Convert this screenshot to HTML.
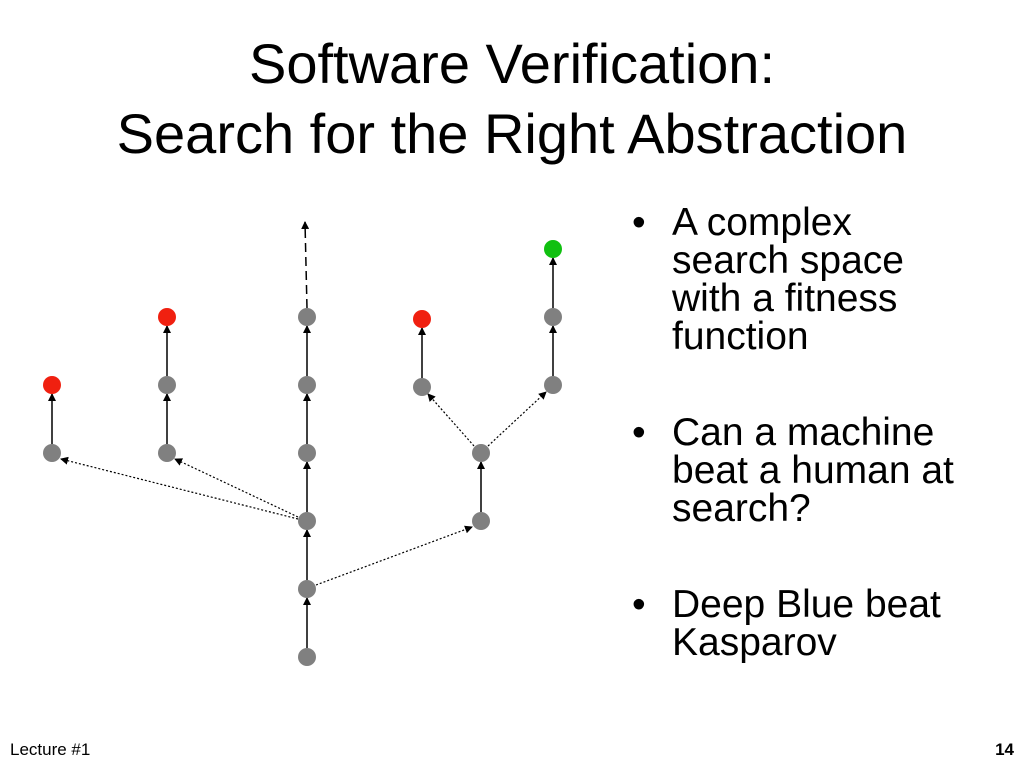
<!DOCTYPE html>
<html><head><style>
body{margin:0;width:1024px;height:768px;background:#fff;position:relative;font-family:"Liberation Sans",sans-serif;overflow:hidden}
.t{position:absolute;left:0;width:1024px;text-align:center;font-size:56px;line-height:70px;top:29px}
.b{position:absolute;left:632px;font-size:39px;line-height:38px}
.b span{position:absolute;left:0}
.b div{margin-left:40px}
</style></head><body>
<div class="t">Software Verification:<br>Search for the Right Abstraction</div>
<div class="b" style="top:204px"><span>•</span><div>A complex<br>search space<br>with a fitness<br>function</div></div>
<div class="b" style="top:414px"><span>•</span><div>Can a machine<br>beat a human at<br>search?</div></div>
<div class="b" style="top:586px"><span>•</span><div>Deep Blue beat<br>Kasparov</div></div>
<div style="position:absolute;left:10px;top:740px;font-size:17px">Lecture #1</div>
<div style="position:absolute;right:10px;top:740px;font-size:17px;font-weight:bold">14</div>
<svg width="1024" height="768" style="position:absolute;left:0;top:0">
<defs><marker id="a" markerWidth="8" markerHeight="8" refX="7" refY="4" orient="auto" markerUnits="userSpaceOnUse"><path d="M0,0L8,4L0,8z" fill="#000"/></marker></defs>
<g stroke="#000" stroke-width="1.5" marker-end="url(#a)">
<line x1="307" y1="648" x2="307" y2="598"/>
<line x1="307" y1="580" x2="307" y2="530"/>
<line x1="307" y1="512" x2="307" y2="462"/>
<line x1="307" y1="444" x2="307" y2="394"/>
<line x1="307" y1="376" x2="307" y2="326"/>
<line x1="307" y1="308" x2="305" y2="222" stroke-dasharray="9,5"/>
<line x1="52" y1="444" x2="52" y2="394"/>
<line x1="167" y1="444" x2="167" y2="394"/>
<line x1="167" y1="376" x2="167" y2="326"/>
<line x1="481" y1="512" x2="481" y2="462"/>
<line x1="422" y1="378" x2="422" y2="328"/>
<line x1="553" y1="376" x2="553" y2="326"/>
<line x1="553" y1="308" x2="553" y2="258"/>
</g>
<g stroke="#000" stroke-width="1.2" stroke-dasharray="2,2" marker-end="url(#a)">
<line x1="298" y1="519" x2="61" y2="459"/>
<line x1="298" y1="517" x2="175" y2="459"/>
<line x1="316" y1="585" x2="472" y2="527"/>
<line x1="474" y1="446" x2="428" y2="394"/>
<line x1="488" y1="446" x2="546" y2="392"/>
</g>
<g fill="#808080">
<circle cx="307" cy="657" r="9"/><circle cx="307" cy="589" r="9"/><circle cx="307" cy="521" r="9"/>
<circle cx="307" cy="453" r="9"/><circle cx="307" cy="385" r="9"/><circle cx="307" cy="317" r="9"/>
<circle cx="52" cy="453" r="9"/><circle cx="167" cy="453" r="9"/><circle cx="167" cy="385" r="9"/>
<circle cx="481" cy="521" r="9"/><circle cx="481" cy="453" r="9"/><circle cx="422" cy="387" r="9"/>
<circle cx="553" cy="385" r="9"/><circle cx="553" cy="317" r="9"/>
</g>
<g fill="#f02010"><circle cx="52" cy="385" r="9"/><circle cx="167" cy="317" r="9"/><circle cx="422" cy="319" r="9"/></g>
<circle cx="553" cy="249" r="9" fill="#10c010"/>
</svg>
</body></html>
